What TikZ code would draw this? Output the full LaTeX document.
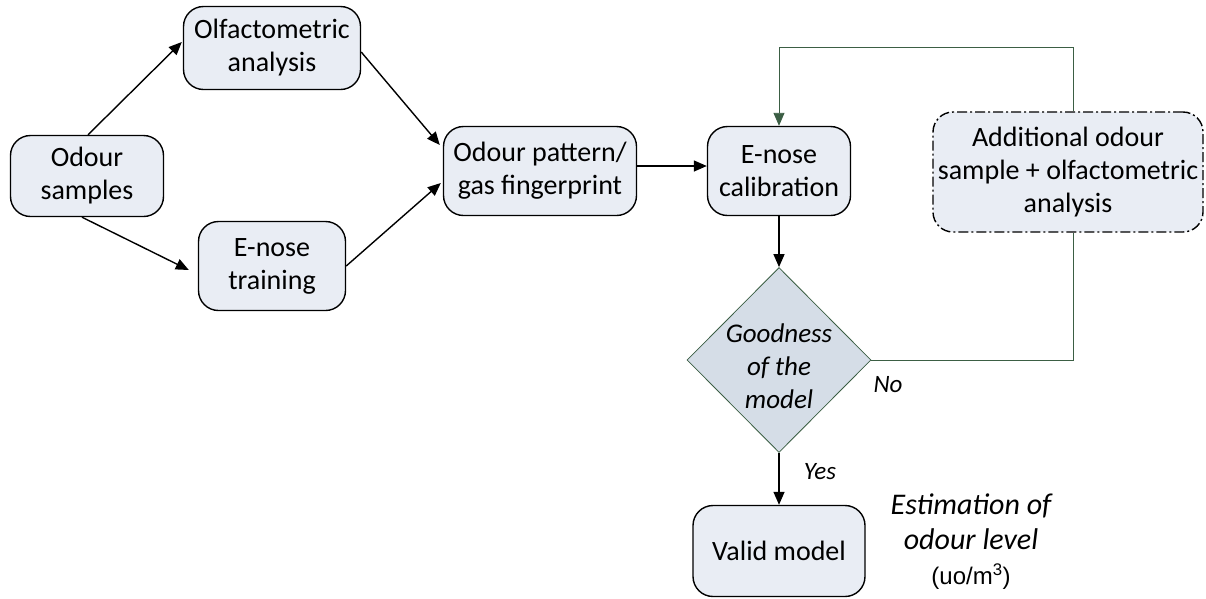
\documentclass[tikz,border=0pt]{standalone}
\usepackage{fontspec}
\setmainfont{Carlito}
\newfontfamily\arialf{Liberation Sans}
\usetikzlibrary{shapes.geometric,arrows.meta}
\definecolor{boxfill}{HTML}{E9EDF4}
\definecolor{diafill}{HTML}{D5DDE7}
\definecolor{fbgreen}{HTML}{3B5E44}
\begin{document}
\begin{tikzpicture}[x=1pt,y=-1pt,
  proc/.style={draw=black,line width=1.4pt,fill=boxfill,rounded corners=20pt,align=center,
    font=\fontsize{28}{33}\selectfont,inner sep=0pt},
  procdd/.style={proc,dash pattern=on 10pt off 3pt on 2pt off 3pt},
  arr/.style={line width=1.4pt,-{Triangle[length=13pt,width=11pt]}},
  fbarr/.style={draw=fbgreen,line width=0.9pt,-{Triangle[length=13pt,width=11pt]},fbgreen},
  fbline/.style={draw=fbgreen,line width=0.9pt},
  lbl/.style={font=\fontsize{25}{28}\selectfont\itshape,inner sep=0pt},
  dia/.style={diamond,draw=fbgreen,line width=0.8pt,fill=diafill,inner sep=0pt,
    minimum width=184pt,minimum height=185pt}]
\useasboundingbox (0,0) rectangle (1206,598);
\node[proc,minimum width=153pt,minimum height=81pt] (samp) at (87,176) {Odour\\samples};
\node[proc,minimum width=177pt,minimum height=83pt] (olf) at (272,48) {Olfactometric\\analysis};
\node[proc,minimum width=147pt,minimum height=89pt] (train) at (272,266) {E-nose\\training};
\node[proc,minimum width=193pt,minimum height=89pt] (pat) at (540,171) {Odour pattern/\\gas fingerprint};
\node[proc,minimum width=143pt,minimum height=89pt] (cal) at (779,171) {E-nose\\calibration};
\node[procdd,minimum width=270pt,minimum height=120pt] (add) at (1068,172) {Additional odour\\sample + olfactometric\\analysis};
\node[dia] (goodn) at (779,360) {};
\node[align=center,inner sep=0pt,font=\fontsize{27}{33}\selectfont\itshape] (goodt) at (779,366) {Goodness\\of the\\model};
\node[proc,minimum width=172pt,minimum height=91pt] (valid) at (779,551) {Valid model};
\node[align=center,inner sep=0pt,font=\fontsize{30}{35}\selectfont\itshape] (est) at (971,542)
  {Estimation of\\odour level\\{\upshape\arialf\fontsize{24}{35}\selectfont (uo/m\textsuperscript{3})}};
\node[lbl] (yes) at (820,472) {Yes};
\node[lbl] (no) at (888,385) {No};

\draw[arr] ([xshift=1pt]samp.north) -- ([yshift=6pt,xshift=-1pt]olf.west);
\draw[arr] ([xshift=-5pt]samp.south) -- ([xshift=-9pt,yshift=-4pt]train.west);
\draw[arr] ([yshift=-4pt]olf.east) -- ([yshift=26pt,xshift=-3pt]pat.west);
\draw[arr] (train.east) -- ([yshift=-12pt,xshift=-2pt]pat.west);
\draw[arr] ([yshift=5pt]pat.east) -- ([yshift=5pt]cal.west);
\draw[arr] (cal.south) -- (goodn.north);
\draw[arr] (goodn.south) -- (valid.north);
\draw[fbarr] ([xshift=5pt]add.north) -- ++(0,-64) -| (cal.north);
\draw[fbline] (goodn.east) -| ([xshift=5pt]add.south);
\end{tikzpicture}
\end{document}
